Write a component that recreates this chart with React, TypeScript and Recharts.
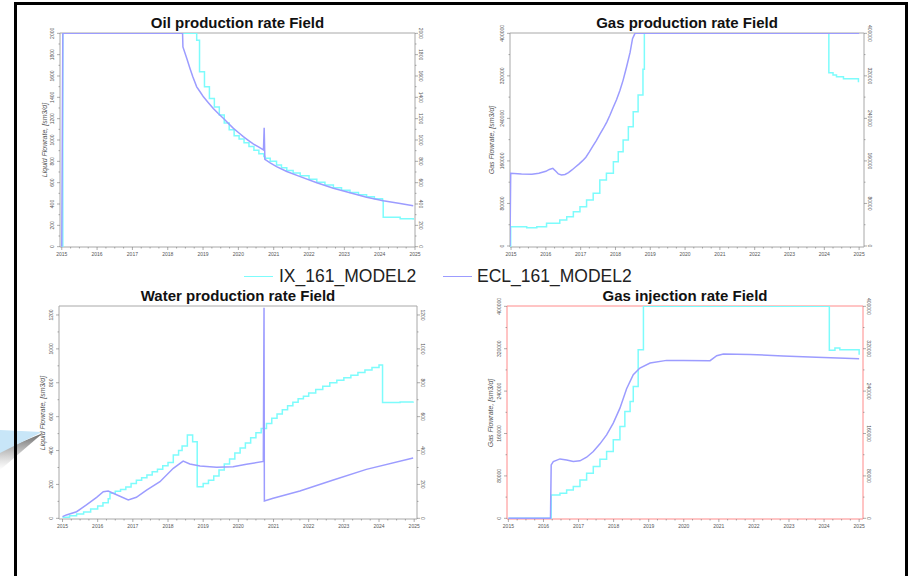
import React from "react";
import { LineChart, Line, XAxis, YAxis, ReferenceArea } from "recharts";

const IX_COLOR = "#7dfcfc";
const ECL_COLOR = "#9c9cff";
const FONT = "'Liberation Sans', Arial, sans-serif";

type Pt = [number, number];

const years = [2015, 2016, 2017, 2018, 2019, 2020, 2021, 2022, 2023, 2024, 2025];
const oilTicks = [0, 200, 400, 600, 800, 1000, 1200, 1400, 1600, 1800, 2000];
const waterTicks = [0, 200, 400, 600, 800, 1000, 1200];
const gasTicks = [0, 80000, 160000, 240000, 320000, 400000];

const seriesNames = ["IX_161_MODEL2", "ECL_161_MODEL2"];

// Oil production rate
const oilIx: Pt[] = [
  [2015.0, 0], [2015.03, 2000], [2018.82, 1935], [2018.9, 1640], [2019.04, 1500],
  [2019.18, 1390], [2019.32, 1310], [2019.46, 1235], [2019.6, 1160], [2019.74, 1095],
  [2019.88, 1040], [2020.02, 1010], [2020.16, 975], [2020.3, 940], [2020.44, 905],
  [2020.58, 870], [2020.72, 845], [2020.75, 830], [2020.9, 800], [2021.08, 765],
  [2021.22, 740], [2021.37, 715], [2021.55, 690], [2021.75, 665], [2022.0, 632],
  [2022.22, 605], [2022.45, 578], [2022.69, 552], [2022.92, 530], [2023.16, 508],
  [2023.4, 487], [2023.63, 467], [2023.85, 450], [2024.08, 432], [2024.1, 277],
  [2024.58, 262], [2024.95, 252],
];
const oilEcl: Pt[] = [
  [2015.0, 0], [2015.03, 2000], [2018.42, 2000], [2018.43, 1872], [2018.54, 1763],
  [2018.63, 1670], [2018.71, 1592], [2018.82, 1498], [2018.92, 1450], [2019.01, 1405],
  [2019.15, 1350], [2019.29, 1296], [2019.43, 1248], [2019.58, 1202], [2019.72, 1155],
  [2019.86, 1109], [2020.0, 1070], [2020.14, 1031], [2020.28, 997], [2020.42, 963],
  [2020.57, 935], [2020.71, 907], [2020.73, 1115], [2020.75, 819], [2020.9, 785],
  [2021.08, 751], [2021.37, 705], [2021.75, 657], [2022.22, 600], [2022.69, 548],
  [2023.16, 505], [2023.63, 464], [2024.1, 430], [2024.58, 405], [2024.95, 383],
];

// Gas production rate
const gasIx: Pt[] = [
  [2014.97, 0], [2014.99, 36400], [2015.45, 34500], [2015.74, 36400], [2016.02, 42600],
  [2016.4, 48900], [2016.6, 55200], [2016.79, 64600], [2016.98, 74000], [2017.17, 86500],
  [2017.36, 99100], [2017.55, 124100], [2017.74, 136700], [2017.94, 158600], [2018.08, 177400],
  [2018.22, 199400], [2018.37, 224500], [2018.51, 252700], [2018.65, 284000], [2018.79, 332300],
  [2018.83, 400000], [2024.13, 326000], [2024.25, 321700], [2024.35, 318500], [2024.55, 314700],
  [2024.98, 307900],
];
const gasEcl: Pt[] = [
  [2014.97, 0], [2014.99, 136700], [2015.3, 135500], [2015.6, 135000], [2015.8, 137000],
  [2016.0, 140500], [2016.1, 144000], [2016.2, 146000], [2016.28, 141000], [2016.36, 135500],
  [2016.45, 133500], [2016.55, 134500], [2016.65, 138000], [2016.75, 143000], [2016.85, 148500],
  [2016.95, 154000], [2017.05, 160000], [2017.15, 167000], [2017.25, 177000], [2017.35, 188000],
  [2017.45, 198000], [2017.55, 210000], [2017.65, 221000], [2017.75, 233000], [2017.84, 246000],
  [2017.93, 260000], [2018.03, 275000], [2018.13, 293000], [2018.22, 312000], [2018.32, 337000],
  [2018.42, 364000], [2018.49, 390000], [2018.56, 400000], [2025.0, 400000],
];

// Water production rate
const waterIx: Pt[] = [
  [2015.0, 6], [2015.2, 15], [2015.4, 25], [2015.6, 38], [2015.8, 55], [2016.0, 72],
  [2016.15, 92], [2016.3, 115], [2016.35, 148], [2016.5, 160], [2016.65, 170], [2016.8, 185],
  [2016.95, 205], [2017.1, 225], [2017.25, 240], [2017.4, 255], [2017.55, 275], [2017.7, 290],
  [2017.85, 310], [2018.0, 330], [2018.15, 374], [2018.3, 400], [2018.4, 427], [2018.55, 492],
  [2018.7, 452], [2018.83, 187], [2019.0, 205], [2019.15, 225], [2019.3, 250], [2019.45, 285],
  [2019.6, 320], [2019.75, 350], [2019.9, 385], [2020.05, 415], [2020.2, 445], [2020.35, 475],
  [2020.5, 505], [2020.65, 530], [2020.8, 560], [2020.95, 590], [2021.1, 615], [2021.25, 640],
  [2021.4, 665], [2021.55, 685], [2021.7, 705], [2021.85, 720], [2022.0, 740], [2022.2, 760],
  [2022.4, 780], [2022.6, 800], [2022.8, 815], [2023.0, 830], [2023.2, 845], [2023.4, 860],
  [2023.6, 875], [2023.8, 890], [2024.0, 905], [2024.1, 683], [2024.6, 686], [2024.97, 690],
];
const waterEcl: Pt[] = [
  [2015.0, 10], [2015.11, 20], [2015.4, 39], [2015.68, 79], [2015.97, 124], [2016.16, 157],
  [2016.3, 161], [2016.44, 148], [2016.87, 108], [2017.1, 124], [2017.39, 167], [2017.77, 216],
  [2018.15, 295], [2018.43, 338], [2018.62, 321], [2018.91, 309], [2019.38, 301], [2019.85, 305],
  [2020.23, 319], [2020.71, 336], [2020.73, 1243], [2020.74, 102], [2020.99, 118], [2021.75, 161],
  [2022.7, 226], [2023.64, 289], [2024.97, 356],
];

// Gas injection rate
const injIx: Pt[] = [
  [2015.0, 0], [2016.22, 44100], [2016.47, 47300], [2016.66, 53600], [2016.85, 59900],
  [2017.04, 72500], [2017.23, 85100], [2017.42, 97700], [2017.61, 111500], [2017.8, 126000],
  [2017.99, 148100], [2018.18, 173300], [2018.32, 201600], [2018.47, 220500], [2018.56, 248900],
  [2018.7, 318200], [2018.85, 400000], [2024.15, 316900], [2024.31, 321300], [2024.45, 318200],
  [2025.0, 308700],
];
const injEcl: Pt[] = [
  [2015.0, 0], [2016.2, 0], [2016.22, 100800], [2016.28, 107100], [2016.47, 112100],
  [2016.66, 110200], [2016.85, 107100], [2017.04, 108400], [2017.23, 115300], [2017.42, 126000],
  [2017.61, 140500], [2017.8, 157500], [2017.99, 179600], [2018.18, 207900], [2018.37, 244400],
  [2018.56, 270900], [2018.75, 283500], [2019.04, 293000], [2019.51, 298000], [2019.99, 298000],
  [2020.75, 297400], [2020.94, 306800], [2021.13, 310000], [2021.89, 309300], [2022.83, 306200],
  [2023.78, 303700], [2025.0, 301100],
];

const rows = (pts: Pt[]) => pts.map(([t, v]) => ({ t, v }));

function withMinors(major: number[], parts: number) {
  const out: number[] = [];
  for (let i = 0; i < major.length; i++) {
    out.push(major[i]);
    if (i < major.length - 1) {
      const step = (major[i + 1] - major[i]) / parts;
      for (let k = 1; k < parts; k++) out.push(major[i] + step * k);
    }
  }
  return out;
}

const isMajor = (majors: number[], v: number) => majors.some((m) => Math.abs(m - v) < 1e-6);

const tickText = { fontSize: 5, fill: "#555", fontFamily: FONT };

function XTick(props: any) {
  const { x, y, payload, majors } = props;
  const major = isMajor(majors, payload.value);
  return (
    <g>
      <line x1={x} y1={y} x2={x} y2={y + (major ? 3 : 1.5)} stroke="#777" strokeWidth={0.6} />
      {major && (
        <text x={x} y={y + 6.5} textAnchor="middle" dominantBaseline="central" {...tickText}>
          {payload.value}
        </text>
      )}
    </g>
  );
}

function YTick(props: any) {
  const { x, y, payload, majors, side } = props;
  const major = isMajor(majors, payload.value);
  const dir = side === "left" ? -1 : 1;
  const lx = side === "left" ? x - 8 : x + 5.5;
  return (
    <g>
      <line x1={x} y1={y} x2={x + dir * (major ? 3 : 1.5)} y2={y} stroke="#777" strokeWidth={0.6} />
      {major && (
        <text
          x={lx}
          y={y}
          transform={`rotate(${side === "left" ? -90 : 90} ${lx} ${y})`}
          textAnchor="middle"
          dominantBaseline="central"
          {...tickText}
        >
          {payload.value}
        </text>
      )}
    </g>
  );
}

type PanelProps = {
  title: string;
  yLabel: string;
  left: number;
  right: number;
  top: number;
  bottom: number;
  xDomain: [number, number];
  yDomain: [number, number];
  yTicks: number[];
  ix: Pt[];
  ecl: Pt[];
  frame: string;
  labelX: number;
};

function Panel(p: PanelProps) {
  const w = p.right - p.left + 100;
  const h = p.bottom - p.top + 35;
  const xTicks = withMinors(years, 4);
  const yAll = withMinors(p.yTicks, 2);
  const cx = (p.left + p.right) / 2;
  const cy = (p.top + p.bottom) / 2;
  return (
    <>
      <div
        style={{
          position: "absolute",
          left: cx - 150,
          width: 300,
          top: p.top - 19,
          textAlign: "center",
          fontFamily: FONT,
          fontWeight: "bold",
          fontSize: 15,
          lineHeight: "18px",
          color: "#111",
        }}
      >
        {p.title}
      </div>
      <div
        style={{
          position: "absolute",
          left: p.labelX - 100,
          width: 200,
          top: cy - 5,
          textAlign: "center",
          fontFamily: FONT,
          fontStyle: "italic",
          fontSize: 7,
          lineHeight: "10px",
          color: "#555",
          transform: "rotate(-90deg)",
        }}
      >
        {p.yLabel}
      </div>
      <div style={{ position: "absolute", left: p.left - 60, top: p.top - 10 }}>
        <LineChart width={w} height={h} margin={{ top: 10, right: 0, bottom: 0, left: 0 }}>
          <XAxis
            type="number"
            dataKey="t"
            domain={p.xDomain}
            allowDataOverflow
            ticks={xTicks}
            interval={0}
            tickSize={0}
            tickMargin={0}
            axisLine={false}
            tickLine={false}
            height={25}
            tick={(tp: any) => <XTick {...tp} majors={years} />}
          />
          <YAxis
            yAxisId="l"
            orientation="left"
            type="number"
            domain={p.yDomain}
            allowDataOverflow
            ticks={yAll}
            interval={0}
            tickSize={0}
            tickMargin={0}
            axisLine={false}
            tickLine={false}
            width={60}
            tick={(tp: any) => <YTick {...tp} majors={p.yTicks} side="left" />}
          />
          <YAxis
            yAxisId="r"
            orientation="right"
            type="number"
            domain={p.yDomain}
            allowDataOverflow
            ticks={yAll}
            interval={0}
            tickSize={0}
            tickMargin={0}
            axisLine={false}
            tickLine={false}
            width={40}
            tick={(tp: any) => <YTick {...tp} majors={p.yTicks} side="right" />}
          />
          <ReferenceArea
            yAxisId="l"
            x1={p.xDomain[0]}
            x2={p.xDomain[1]}
            y1={p.yDomain[0]}
            y2={p.yDomain[1]}
            fill="none"
            stroke={p.frame}
            strokeWidth={1}
          />
          <Line
            yAxisId="l"
            data={rows(p.ix)}
            dataKey="v"
            type="stepAfter"
            stroke={IX_COLOR}
            strokeWidth={1.5}
            dot={false}
            isAnimationActive={false}
          />
          <Line
            yAxisId="l"
            data={rows(p.ecl)}
            dataKey="v"
            type="linear"
            stroke={ECL_COLOR}
            strokeWidth={1.5}
            dot={false}
            isAnimationActive={false}
          />
        </LineChart>
      </div>
    </>
  );
}

export default function App() {
  return (
    <div
      style={{
        position: "absolute",
        left: 0,
        top: 0,
        width: 911,
        height: 576,
        background: "#fff",
        overflow: "hidden",
      }}
    >
      <svg width={60} height={60} style={{ position: "absolute", left: 0, top: 420 }}>
        <defs>
          <linearGradient id="shade" x1="0" y1="0" x2="0" y2="1">
            <stop offset="0" stopColor="#555" stopOpacity={0.9} />
            <stop offset="1" stopColor="#999" stopOpacity={0} />
          </linearGradient>
        </defs>
        <polygon points="0,31 43,13 0,50" fill="url(#shade)" />
        <polygon points="0,10 42,12 0,33" fill="#c8e6f8" />
      </svg>

      <Panel
        title="Oil production rate Field"
        yLabel="Liquid Flowrate, [sm3/d]"
        left={60}
        right={415}
        top={33}
        bottom={247}
        xDomain={[2014.95, 2025.0]}
        yDomain={[-3, 2003]}
        yTicks={oilTicks}
        ix={oilIx}
        ecl={oilEcl}
        frame="#a8a8a8"
        labelX={45}
      />
      <Panel
        title="Gas production rate Field"
        yLabel="Gas Flowrate, [sm3/d]"
        left={510}
        right={864}
        top={33}
        bottom={247}
        xDomain={[2014.97, 2025.14]}
        yDomain={[-1900, 400600]}
        yTicks={gasTicks}
        ix={gasIx}
        ecl={gasEcl}
        frame="#a8a8a8"
        labelX={492}
      />
      <Panel
        title="Water production rate Field"
        yLabel="Liquid Flowrate, [sm3/d]"
        left={59}
        right={417}
        top={306}
        bottom={519}
        xDomain={[2014.9, 2025.08]}
        yDomain={[-4, 1253]}
        yTicks={waterTicks}
        ix={waterIx}
        ecl={waterEcl}
        frame="#a8a8a8"
        labelX={43}
      />
      <Panel
        title="Gas injection rate Field"
        yLabel="Gas Flowrate, [sm3/d]"
        left={507}
        right={863}
        top={306}
        bottom={519}
        xDomain={[2014.96, 2025.11]}
        yDomain={[-1300, 400600]}
        yTicks={gasTicks}
        ix={injIx}
        ecl={injEcl}
        frame="#ff8a8a"
        labelX={491}
      />

      {/* shared legend */}
      <div
        style={{
          position: "absolute",
          left: 0,
          top: 266,
          width: 911,
          height: 20,
          fontFamily: FONT,
          fontSize: 17.5,
          lineHeight: "20px",
          color: "#222",
        }}
      >
        <div style={{ position: "absolute", left: 244, top: 10, width: 29, height: 1, background: IX_COLOR }} />
        <div style={{ position: "absolute", left: 279, top: 0, whiteSpace: "nowrap" }}>{seriesNames[0]}</div>
        <div style={{ position: "absolute", left: 443, top: 10, width: 29, height: 1, background: ECL_COLOR }} />
        <div style={{ position: "absolute", left: 477, top: 0, whiteSpace: "nowrap" }}>{seriesNames[1]}</div>
      </div>

      {/* slide frame */}
      <div style={{ position: "absolute", left: 14, top: 2, width: 894, height: 3, background: "#000" }} />
      <div style={{ position: "absolute", left: 14, top: 2, width: 3, height: 600, background: "#000" }} />
      <div style={{ position: "absolute", left: 905, top: 2, width: 3, height: 600, background: "#000" }} />
    </div>
  );
}
